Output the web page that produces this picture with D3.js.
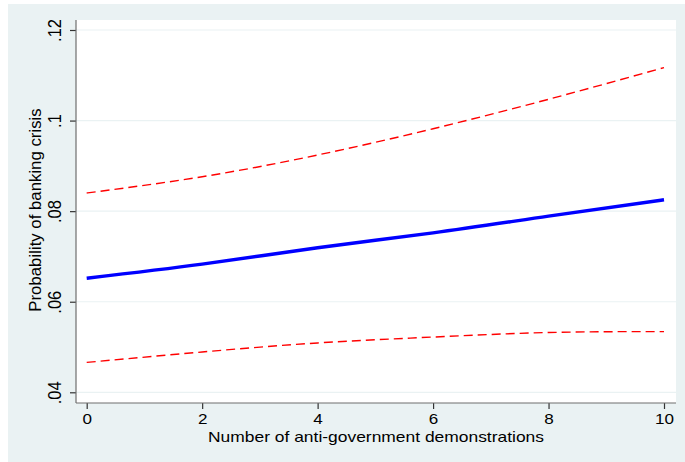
<!DOCTYPE html>
<html><head><meta charset="utf-8">
<script src="https://cdn.jsdelivr.net/npm/d3@7"></script>
<style>body{margin:0;background:#fff}svg{display:block}text{font-family:"Liberation Sans",Arial,sans-serif;fill:#000}</style>
</head><body>
<script>
const xValues = [0, 2, 4, 6, 8, 10];
const estimate = [0.0652, 0.0683, 0.0719, 0.0752, 0.0789, 0.0825];
const upperCI = [0.0840, 0.0876, 0.0924, 0.0982, 0.1047, 0.1117];
const lowerCI = [0.0466, 0.0489, 0.0509, 0.0522, 0.0532, 0.0534];
const xTicks = [0, 2, 4, 6, 8, 10];
const yTicks = [0.04, 0.06, 0.08, 0.10, 0.12];
const yTickLabels = [".04", ".06", ".08", ".1", ".12"];

const W = 685, H = 462;
const svg = d3.select("body").append("svg").attr("width", W).attr("height", H);
svg.append("rect").attr("x", 8).attr("y", 4).attr("width", W - 8).attr("height", H - 4).attr("fill", "#EAF2F3");
const pl = 76, pr = 676, pt = 20, pb = 403;
svg.append("rect").attr("x", pl).attr("y", pt).attr("width", pr - pl).attr("height", pb - pt).attr("fill", "#fff");

const x = d3.scaleLinear().domain([0, 10]).range([86.7, 664]);
const y = d3.scaleLinear().domain([0.04, 0.12]).range([392.3, 30]);

// grid
svg.append("g").selectAll("line").data(yTicks).join("line")
  .attr("x1", pl).attr("x2", pr).attr("y1", d => y(d)).attr("y2", d => y(d))
  .attr("stroke", "#EAF2F3").attr("stroke-width", 1.2);

// axes
const yAxis = d3.axisLeft(y).tickValues(yTicks).tickSize(6).tickSizeOuter(0)
  .tickFormat((d, i) => yTickLabels[i]);
const gy = svg.append("g").attr("transform", `translate(${pl},0)`).call(yAxis);
gy.select(".domain").remove();
gy.append("line").attr("x1", 0).attr("x2", 0).attr("y1", pt).attr("y2", pb).attr("stroke", "#6e6e6e").attr("stroke-width", 1.2);
gy.selectAll(".tick line").attr("stroke", "#333").attr("stroke-width", 1.2);
gy.selectAll(".tick text").attr("font-size", 16.5).attr("transform", "rotate(-90) scale(1,1.15)")
  .attr("x", 0).attr("y", -13).attr("dy", "0").attr("text-anchor", "middle")
  .style("font-family", '"Liberation Sans",Arial,sans-serif');

const xAxis = d3.axisBottom(x).tickValues(xTicks).tickSize(6).tickSizeOuter(0).tickFormat(d3.format("d"));
const gx = svg.append("g").attr("transform", `translate(0,${pb})`).call(xAxis);
gx.select(".domain").remove();
gx.append("line").attr("x1", pl).attr("x2", pr).attr("y1", 0).attr("y2", 0).attr("stroke", "#6e6e6e").attr("stroke-width", 1.2);
gx.selectAll(".tick line").attr("stroke", "#333").attr("stroke-width", 1.2);
gx.selectAll(".tick text").attr("font-size", 14).attr("y", 11).attr("dy", "0.71em")
  .attr("transform", "scale(1.22,1)")
  .style("font-family", '"Liberation Sans",Arial,sans-serif');

// titles
svg.append("text").attr("transform", "translate(376,442) scale(1.245,1)").attr("text-anchor", "middle").attr("font-size", 14)
  .text("Number of anti-government demonstrations");
svg.append("text").attr("transform", "translate(41,210) rotate(-90)").attr("text-anchor", "middle").attr("font-size", 16.8)
  .text("Probability of banking crisis");

const line = d3.line().x((d, i) => x(xValues[i])).y(d => y(d)).curve(d3.curveNatural);
svg.append("path").attr("d", line(upperCI)).attr("fill", "none").attr("stroke", "#ff0000").attr("stroke-width", 1.4).attr("stroke-dasharray", "9,5");
svg.append("path").attr("d", line(lowerCI)).attr("fill", "none").attr("stroke", "#ff0000").attr("stroke-width", 1.4).attr("stroke-dasharray", "9,5");
svg.append("path").attr("d", line(estimate)).attr("fill", "none").attr("stroke", "#0000ff").attr("stroke-width", 3.5);
</script>
</body></html>
